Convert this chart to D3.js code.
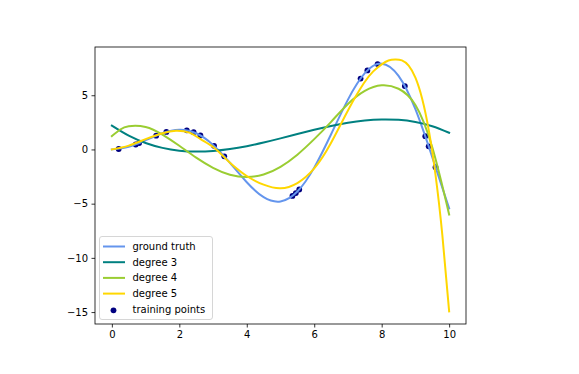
<!DOCTYPE html>
<html><head><meta charset="utf-8">
<script src="https://cdn.jsdelivr.net/npm/d3@7"></script>
<style>body{margin:0;background:#fff}svg{display:block}text{font-family:"DejaVu Sans",sans-serif}</style>
</head><body><svg id="c" width="579" height="374"></svg>
<script>
// ground truth samples
const gtX = [0,0.5,1,1.5,2,2.5,3,3.5,4,4.5,5,5.5,6,6.5,7,7.5,8,8.5,9,9.5,10];
const gtY = [0,0.240,0.841,1.496,1.819,1.496,0.423,-1.228,-3.027,-4.399,-4.795,-3.880,-1.676,1.398,4.599,7.035,7.915,6.787,3.709,-0.714,-5.440];
// degree 3 fit
const d3X = [0,0.5,1,1.5,2,2.5,3,3.5,4,4.5,5,5.5,6,6.5,7,7.5,8,8.5,9,9.5,10];
const d3Y = [2.2,1.276,0.600,0.145,-0.113,-0.200,-0.143,0.034,0.304,0.643,1.024,1.422,1.811,2.166,2.461,2.671,2.770,2.731,2.531,2.142,1.54];
// degree 4 fit
const d4X = [0,0.25,0.5,1,1.5,2,2.5,3,3.5,4,4.5,5,5.5,6,6.5,7,7.5,8,8.5,9,9.5,10];
const d4Y = [1.23,1.84,2.15,2.08,1.37,0.34,-0.75,-1.69,-2.33,-2.55,-2.31,-1.60,-0.48,0.95,2.55,4.2,5.4,5.92,5.6,4.1,0.2,-6.0];
// degree 5 fit
const d5X = [0,0.5,1,1.5,1.9,2.3,2.63,3.03,3.37,3.62,4,4.5,5,5.5,6,6.48,7,7.47,7.75,8,8.2,8.4,8.6,8.8,9,9.2,9.4,9.6,9.8,10];
const d5Y = [0.0,0.35,0.95,1.5,1.73,1.55,0.95,0.15,-0.85,-1.55,-2.45,-3.25,-3.58,-3.1,-1.75,0.5,3.6,6.1,7.2,7.85,8.2,8.3,8.21,7.73,6.62,4.68,1.71,-2.44,-7.94,-14.93];
// training points
const trX = [0.202,0.707,0.808,1.313,1.616,2.222,2.424,2.626,3.030,3.333,5.354,5.455,5.556,7.374,7.576,7.879,8.687,9.293,9.394,9.596];
const trY = [0.0405,0.459,0.584,1.270,1.614,1.768,1.594,1.295,0.337,-0.635,-4.289,-4.020,-3.693,6.539,7.286,7.876,5.843,1.222,0.289,-1.634];
const xTicks = [0,2,4,6,8,10];
const yTicks = [-15,-10,-5,0,5];
const labels = ["ground truth","degree 3","degree 4","degree 5","training points"];

const L=95,R=466,T=47,B=324;
const svg=d3.select("#c");
const x=d3.scaleLinear().domain([-0.5,10.5]).range([L,R]);
const y=d3.scaleLinear().domain([-16.1,9.45]).range([B,T]);
svg.append("clipPath").attr("id","clip").append("rect").attr("x",L).attr("y",T).attr("width",R-L).attr("height",B-T);
const g=svg.append("g").attr("clip-path","url(#clip)");
g.selectAll("circle.tr").data(trX).join("circle").attr("class","tr")
 .attr("cx",d=>x(d)).attr("cy",(d,i)=>y(trY[i])).attr("r",2.9).attr("fill","navy");
const line=d3.line().x(d=>x(d[0])).y(d=>y(d[1])).curve(d3.curveNatural);
const series=[[gtX,gtY,"cornflowerblue"],[d3X,d3Y,"teal"],[d4X,d4Y,"yellowgreen"],[d5X,d5Y,"gold"]];
series.forEach(([xs,ys,c])=>{
  g.append("path").attr("d",line(xs.map((v,i)=>[v,ys[i]]))).attr("fill","none").attr("stroke",c).attr("stroke-width",2).attr("stroke-linejoin","round").attr("stroke-linecap","square");
});
// axes
const fmt=d=>d<0?"\u2212"+Math.abs(d):String(d);
const xa=svg.append("g").attr("transform",`translate(0,${B})`).call(d3.axisBottom(x).tickValues(xTicks).tickFormat(fmt).tickSize(3.5).tickPadding(3.5));
const ya=svg.append("g").attr("transform",`translate(${L},0)`).call(d3.axisLeft(y).tickValues(yTicks).tickFormat(fmt).tickSize(3.5).tickPadding(3.5));
[xa,ya].forEach(a=>{a.select(".domain").remove();a.selectAll("line").attr("stroke","#000").attr("stroke-width",0.8);a.selectAll("text").attr("font-size",10).attr("fill","#000").attr("font-family","DejaVu Sans");});
svg.append("rect").attr("x",L).attr("y",T).attr("width",R-L).attr("height",B-T).attr("fill","none").attr("stroke","#000").attr("stroke-width",0.8);
// legend
const lg=svg.append("g");
lg.append("rect").attr("x",99.5).attr("y",236.5).attr("width",113).attr("height",83).attr("rx",2.5).attr("fill","#fff").attr("fill-opacity",0.8).attr("stroke","#ccc").attr("stroke-width",0.8);
const cols=["cornflowerblue","teal","yellowgreen","gold","navy"];
labels.forEach((t,i)=>{
  const cy=246.5+i*15.7;
  if(i<4) lg.append("line").attr("x1",103).attr("x2",125).attr("y1",cy).attr("y2",cy).attr("stroke",cols[i]).attr("stroke-width",2);
  else lg.append("circle").attr("cx",113.5).attr("cy",cy+1).attr("r",2.9).attr("fill","navy");
  lg.append("text").attr("x",132.5).attr("y",cy).attr("dy","0.35em").attr("font-size",10).text(t);
});
</script></body></html>
